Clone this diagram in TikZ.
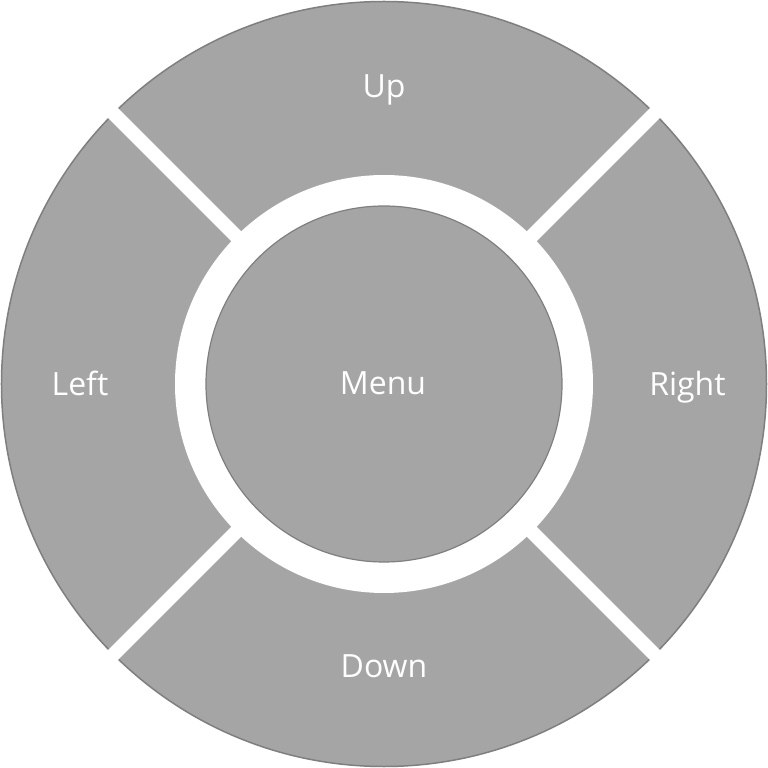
\documentclass[tikz,border=0pt]{standalone}
\usepackage{fontspec}
\setmainfont{Open Sans}
\definecolor{segfill}{HTML}{A5A5A5}
\definecolor{segline}{HTML}{7F7F7F}
\tikzset{
  lbl/.style={text=white, font=\fontsize{32}{32}\selectfont, anchor=base, inner sep=0pt},
  gapstrip/.style={draw=white, line width=14pt},
}
\begin{document}
\begin{tikzpicture}[x=1pt,y=1pt]
\useasboundingbox (-384,-384) rectangle (384,384);
\fill[white] (-384,-384) rectangle (384,384);
% outer disc
\node[circle, minimum size=765pt, inner sep=0pt, fill=segfill, draw=segline, line width=1.5pt] (outer) at (0,0) {};
% gaps
\coordinate (c) at (0,0);
\draw[gapstrip] (c) -- (45:400);
\draw[gapstrip] (c) -- (135:400);
\draw[gapstrip] (c) -- (225:400);
\draw[gapstrip] (c) -- (315:400);
% white ring
\node[circle, minimum size=418pt, inner sep=0pt, fill=white] (ring) at (0,0) {};
% menu
\node[circle, minimum size=356pt, inner sep=0pt, fill=segfill, draw=segline, line width=1.2pt] (menu) at (0,0) {};
% labels
\node[lbl] (up) at (0,286) {Up};
\node[lbl] (down) at (0,-293) {Down};
\node[lbl] (left) at (-304,-12) {Left};
\node[lbl] (right) at (303.5,-12) {Right};
\node[lbl] (menutext) at (-1,-11) {Menu};
\end{tikzpicture}
\end{document}
